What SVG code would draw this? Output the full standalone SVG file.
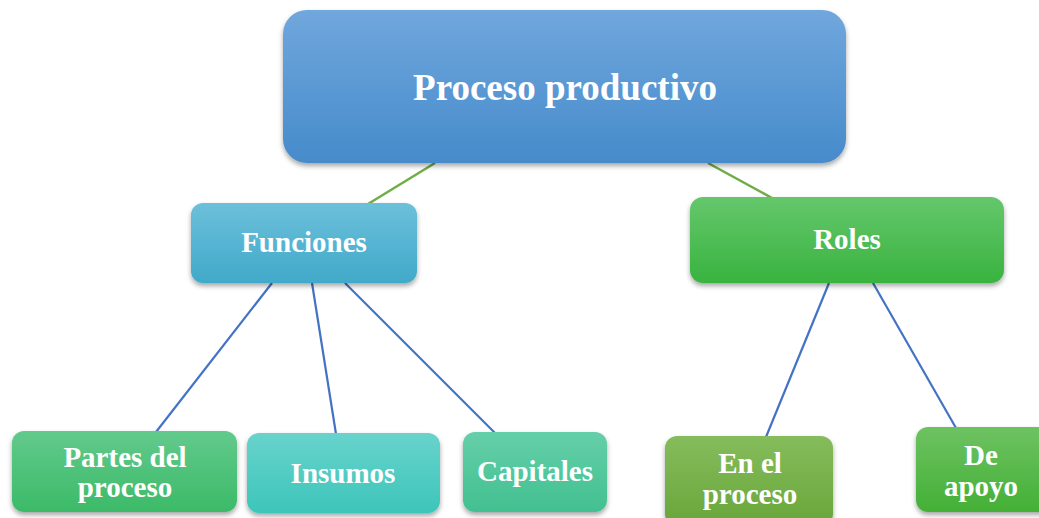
<svg xmlns="http://www.w3.org/2000/svg" width="1039" height="518" viewBox="0 0 1039 518">
<defs>
<style>
.lbl{font-family:"Liberation Serif","Times New Roman",serif;font-weight:bold;fill:#ffffff;text-anchor:middle}
.s{font-size:29px}
.g{stroke:#70AD47;stroke-width:2.5;fill:none}
.b{stroke:#4472C4;stroke-width:2.2;fill:none}
</style>
<filter id="sh" x="-10%" y="-10%" width="120%" height="130%">
<feDropShadow dx="0" dy="3" stdDeviation="2.5" flood-color="#000" flood-opacity="0.35"/>
</filter>
<linearGradient id="gMain" x1="0" y1="0" x2="0" y2="1"><stop offset="0" stop-color="#70a7dd"/><stop offset="1" stop-color="#468bcb"/></linearGradient>
<linearGradient id="gFun" x1="0" y1="0" x2="0" y2="1"><stop offset="0" stop-color="#6cc0da"/><stop offset="1" stop-color="#41a9ca"/></linearGradient>
<linearGradient id="gRol" x1="0" y1="0" x2="0" y2="1"><stop offset="0" stop-color="#65c76c"/><stop offset="1" stop-color="#39b33f"/></linearGradient>
<linearGradient id="gPar" x1="0" y1="0" x2="0" y2="1"><stop offset="0" stop-color="#62ca8c"/><stop offset="1" stop-color="#3cba68"/></linearGradient>
<linearGradient id="gIns" x1="0" y1="0" x2="0" y2="1"><stop offset="0" stop-color="#68d3cc"/><stop offset="1" stop-color="#3dc5ba"/></linearGradient>
<linearGradient id="gCap" x1="0" y1="0" x2="0" y2="1"><stop offset="0" stop-color="#65cfa9"/><stop offset="1" stop-color="#42c090"/></linearGradient>
<linearGradient id="gEn" x1="0" y1="0" x2="0" y2="1"><stop offset="0" stop-color="#86bc5c"/><stop offset="1" stop-color="#68a63a"/></linearGradient>
<linearGradient id="gDe" x1="0" y1="0" x2="0" y2="1"><stop offset="0" stop-color="#6ec262"/><stop offset="1" stop-color="#43b036"/></linearGradient>
</defs>
<rect width="1039" height="518" fill="#ffffff"/>
<g id="connectors">
<line class="g" x1="435" y1="163" x2="368" y2="204"/>
<line class="g" x1="708" y1="163" x2="772" y2="198"/>
<line class="b" x1="272" y1="283" x2="156" y2="432"/>
<line class="b" x1="312" y1="283" x2="336" y2="434"/>
<line class="b" x1="345" y1="283" x2="495" y2="433"/>
<line class="b" x1="829" y1="283" x2="766" y2="437"/>
<line class="b" x1="873" y1="283" x2="956" y2="428"/>
</g>
<g id="node-main">
<rect x="283" y="10" width="563" height="153" rx="24" fill="url(#gMain)" filter="url(#sh)"/>
<text class="lbl" x="565" y="100" font-size="37">Proceso productivo</text>
</g>
<g id="node-funciones">
<rect x="191" y="203" width="226" height="80" rx="12" fill="url(#gFun)" filter="url(#sh)"/>
<text class="lbl s" x="304" y="252">Funciones</text>
</g>
<g id="node-roles">
<rect x="690" y="197" width="314" height="86" rx="13" fill="url(#gRol)" filter="url(#sh)"/>
<text class="lbl s" x="847" y="249">Roles</text>
</g>
<g id="node-partes">
<rect x="12" y="431" width="225" height="81" rx="12" fill="url(#gPar)" filter="url(#sh)"/>
<text class="lbl s" x="125" y="467">Partes del</text>
<text class="lbl s" x="125" y="497">proceso</text>
</g>
<g id="node-insumos">
<rect x="247" y="433" width="193" height="80" rx="12" fill="url(#gIns)" filter="url(#sh)"/>
<text class="lbl s" x="343" y="483">Insumos</text>
</g>
<g id="node-capitales">
<rect x="463" y="432" width="144" height="80" rx="12" fill="url(#gCap)" filter="url(#sh)"/>
<text class="lbl s" x="535" y="481">Capitales</text>
</g>
<g id="node-enel">
<rect x="665" y="436" width="168" height="90" rx="12" fill="url(#gEn)" filter="url(#sh)"/>
<text class="lbl s" x="750" y="473">En el</text>
<text class="lbl s" x="750" y="504">proceso</text>
</g>
<g id="node-deapoyo">
<rect x="916" y="427" width="140" height="85" rx="12" fill="url(#gDe)" filter="url(#sh)"/>
<text class="lbl s" x="981" y="465">De</text>
<text class="lbl s" x="981" y="496">apoyo</text>
</g>
</svg>
